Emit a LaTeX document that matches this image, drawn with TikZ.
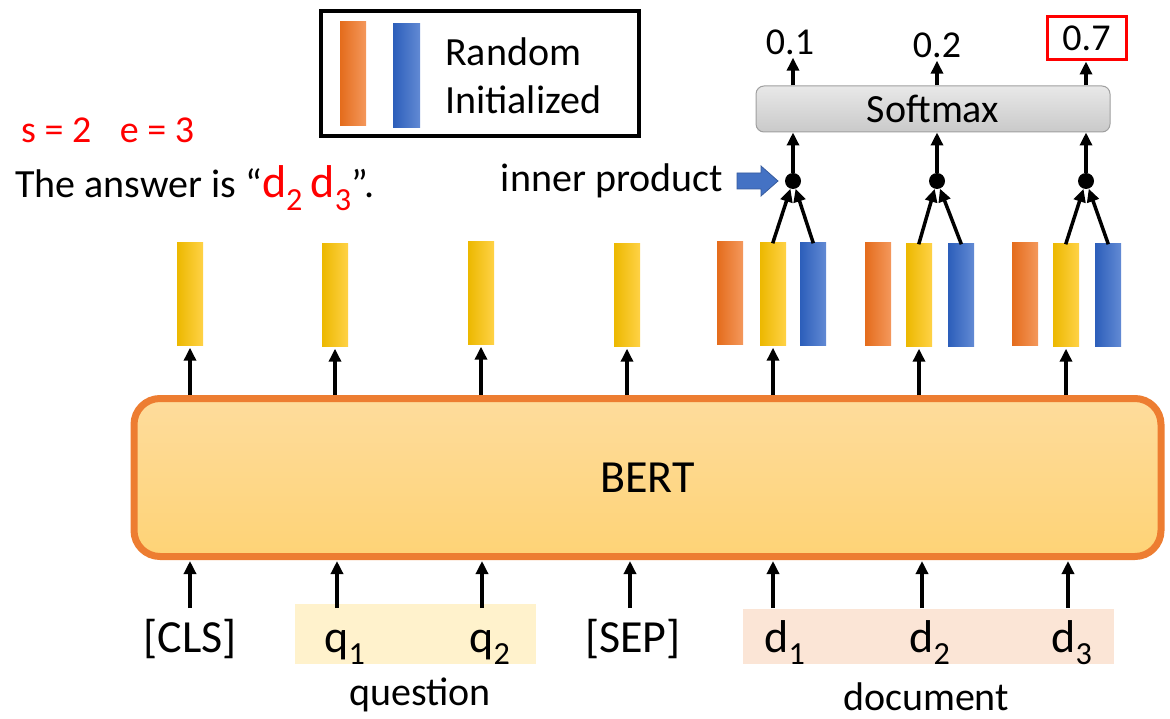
\documentclass[tikz,border=0pt]{standalone}
\usepackage{fontspec}
\setmainfont{Carlito}
\usetikzlibrary{arrows.meta}
\definecolor{bertborder}{RGB}{237,125,49}
\definecolor{berttop}{RGB}{254,220,156}
\definecolor{bertbot}{RGB}{254,211,118}
\definecolor{orL}{RGB}{228,108,28}
\definecolor{orR}{RGB}{244,152,92}
\definecolor{yeL}{RGB}{236,184,0}
\definecolor{yeR}{RGB}{255,210,70}
\definecolor{blL}{RGB}{44,94,186}
\definecolor{blR}{RGB}{98,138,212}
\definecolor{qbg}{RGB}{255,242,204}
\definecolor{dbg}{RGB}{251,229,214}
\definecolor{arrblue}{RGB}{68,114,196}
\definecolor{txtred}{RGB}{255,0,0}
\newcommand\fsz[1]{\fontsize{#1}{#1}\selectfont}
\begin{document}
\begin{tikzpicture}[x=1pt,y=-1pt,
  arr/.style={line width=3.5pt,-{Triangle[length=13pt,width=12pt]}},
  bar/.style={rectangle,inner sep=0pt,minimum width=26pt,minimum height=103pt},
  ybar/.style={bar,left color=yeL,right color=yeR},
  obar/.style={bar,left color=orL,right color=orR},
  bbar/.style={bar,left color=blL,right color=blR},
  tok/.style={font=\fsz{46},inner sep=0pt,anchor=base},
  lbl/.style={font=\fsz{40},inner sep=0pt},
  val/.style={font=\fsz{38},inner sep=3pt},
  dot/.style={circle,fill=black,inner sep=0pt,minimum size=16pt}]
\useasboundingbox (0,0) rectangle (1170,719);

% legend
\node[draw=black,line width=4pt,minimum width=318pt,minimum height=125pt,inner sep=0pt] (legend) at (480,73.5) {};
\node[obar,minimum height=104pt] (lo) at (353,74) {};
\node[bbar,minimum height=104pt,minimum width=27pt] (lb) at (406.5,76) {};
\node[lbl,anchor=west] (lr) at (445,52) {Random};
\node[lbl,anchor=west] (li) at (445,100) {Initialized};

% left texts
\node[font=\fsz{38},text=txtred,anchor=west,inner sep=0pt] (se) at (21,130) {s = 2\hspace{0.75em}e = 3};
\node[font=\fsz{40},anchor=west,inner sep=0pt] (ans) at (15,188) {The answer is “{\color{txtred}\fsz{46}d\textsubscript{2}\,d\textsubscript{3}}”.};

% inner product
\node[lbl,anchor=east] (ip) at (723,181) {inner product};
\fill[arrblue,draw=arrblue!80!black,line width=0.8pt] (737,173) -- (761,173) -- (761,166) -- (778,181) -- (761,196) -- (761,189) -- (737,189) -- cycle;

% BERT
\node[draw=bertborder,line width=7pt,rounded corners=26pt,top color=berttop,bottom color=bertbot,minimum width=1027pt,minimum height=158pt,inner sep=0pt,font=\fsz{46}] (bert) at (647.5,477.5) {BERT};

% single yellow bars
\node[ybar] (y1) at (190,294) {};
\node[ybar] (y2) at (335,295) {};
\node[ybar] (y3) at (481,293) {};
\node[ybar] (y4) at (627,295) {};
% triples
\node[obar] (o5) at (730,293) {};
\node[ybar] (y5) at (773,294) {};
\node[bbar] (b5) at (813,294) {};
\node[obar] (o6) at (878,294) {};
\node[ybar] (y6) at (919,295) {};
\node[bbar] (b6) at (961,295) {};
\node[obar] (o7) at (1025,294) {};
\node[ybar] (y7) at (1066,295) {};
\node[bbar] (b7) at (1108,295) {};

% dots
\node[dot] (p1) at (793,181) {};
\node[dot] (p2) at (937,181) {};
\node[dot] (p3) at (1086,181) {};

% softmax
\node[draw=gray!75,line width=1pt,rounded corners=8pt,top color=gray!18,bottom color=gray!42,minimum width=354pt,minimum height=46pt,inner sep=0pt,font=\fsz{40}] (soft) at (933,109) {Softmax};

% values
\node[val] (v1) at (790,42) {0.1};
\node[val] (v2) at (937,45) {0.2};
\node[val,draw=txtred,line width=3pt,minimum width=79pt,minimum height=43pt,inner sep=0pt] (v3) at (1086.5,38.5) {0.7};

% arrows bars -> dots
\foreach \p/\y/\b in {p1/y5/b5,p2/y6/b6,p3/y7/b7}{
  \draw[arr,shorten <=-1pt] (\y.north) -- (\p);
  \draw[arr,shorten <=-1pt] (\b.north) -- (\p);
  \draw[arr] (\p) -- (\p |- soft.south);
}
\draw[arr] (soft.north -| p1) -- (p1 |- v1.south);
\draw[arr] (soft.north -| p2) -- (p2 |- v2.south);
\draw[arr] (soft.north -| p3) -- (p3 |- v3.south);

% BERT -> bars
\foreach \y in {y1,y2,y3,y4,y5,y6,y7}{
  \draw[arr,shorten >=2pt] (bert.north -| \y) -- (\y.south);
}

% inputs
\node[fill=qbg,minimum width=241pt,minimum height=60pt,inner sep=0pt] (qb) at (415.5,634) {};
\node[fill=dbg,minimum width=371pt,minimum height=55pt,inner sep=0pt] (db) at (928.5,636.5) {};
\node[tok] (t1) at (190,652) {[CLS]};
\node[tok] (t2) at (345,652) {q\textsubscript{1}};
\node[tok] (t3) at (490,652) {q\textsubscript{2}};
\node[tok] (t4) at (633,652) {[SEP]};
\node[tok] (t5) at (785,652) {d\textsubscript{1}};
\node[tok] (t6) at (930,652) {d\textsubscript{2}};
\node[tok] (t7) at (1072,652) {d\textsubscript{3}};
\coordinate (i1) at (190,608);
\coordinate (i2) at (337,608);
\coordinate (i3) at (482,608);
\coordinate (i4) at (630,608);
\coordinate (i5) at (773,608);
\coordinate (i6) at (922,608);
\coordinate (i7) at (1068,608);
\foreach \i in {i1,i2,i3,i4,i5,i6,i7}{
  \draw[arr,shorten >=1pt] (\i) -- (\i |- bert.south);
}
\node[lbl] (q) at (420,695) {question};
\node[lbl] (d) at (926,697) {document};
\end{tikzpicture}
\end{document}
